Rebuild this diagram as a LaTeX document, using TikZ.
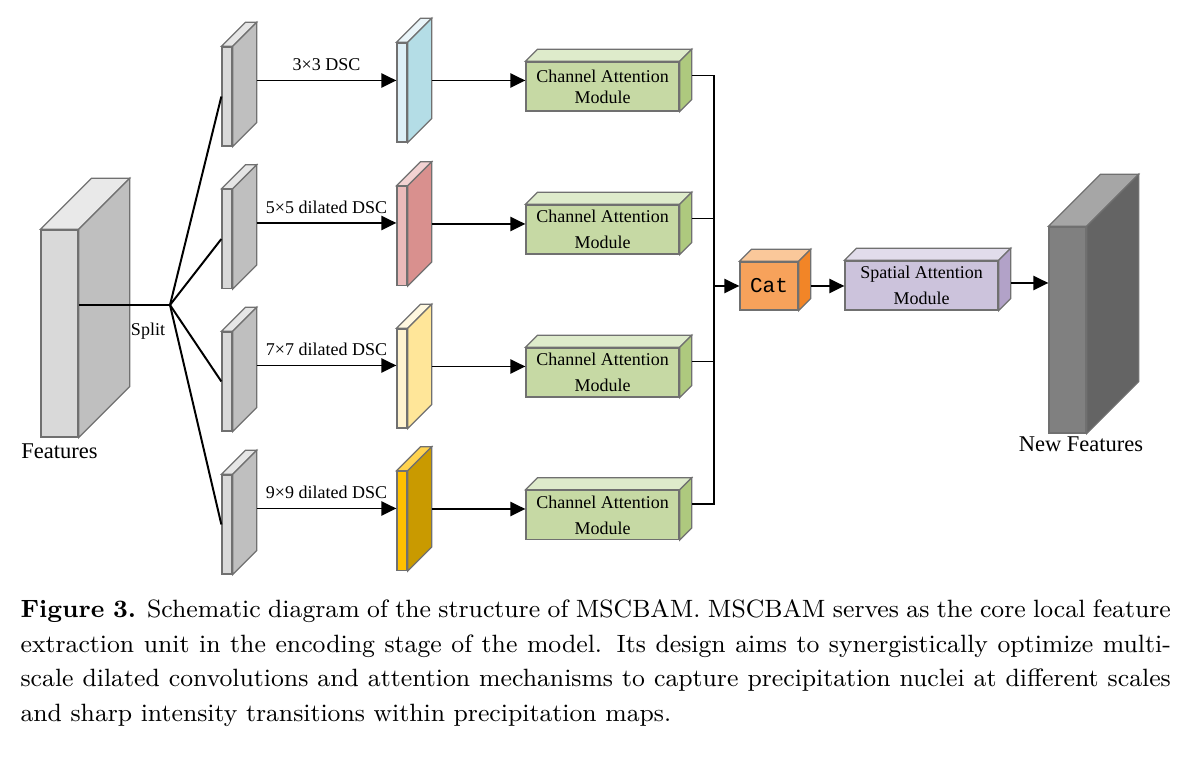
\documentclass[tikz,border=0pt]{standalone}
\usepackage{fontspec}
\newfontfamily\diagfont{Liberation Serif}
\newfontfamily\catfont{Liberation Mono}
\usetikzlibrary{arrows.meta,positioning,calc}

\definecolor{edge}{HTML}{707070}
\definecolor{featFront}{HTML}{D9D9D9}\definecolor{featTop}{HTML}{E9E9E9}\definecolor{featSide}{HTML}{BFBFBF}
\definecolor{grayFront}{HTML}{D9D9D9}\definecolor{grayTop}{HTML}{E6E6E6}\definecolor{graySide}{HTML}{BFBFBF}
\definecolor{blueFront}{HTML}{DEEFF6}\definecolor{blueTop}{HTML}{EAF5F9}\definecolor{blueSide}{HTML}{B4DDE6}
\definecolor{redFront}{HTML}{EBBABA}\definecolor{redTop}{HTML}{F2D2D2}\definecolor{redSide}{HTML}{D9908E}
\definecolor{yelFront}{HTML}{FFF3CF}\definecolor{yelTop}{HTML}{FFF8E0}\definecolor{yelSide}{HTML}{FFE699}
\definecolor{goldFront}{HTML}{FFC000}\definecolor{goldTop}{HTML}{FFD34F}\definecolor{goldSide}{HTML}{C99A00}
\definecolor{camFront}{HTML}{C6D9A4}\definecolor{camTop}{HTML}{DEEBCB}\definecolor{camSide}{HTML}{AEC97E}
\definecolor{catFront}{HTML}{F7A25B}\definecolor{catTop}{HTML}{FAC89A}\definecolor{catSide}{HTML}{F28527}
\definecolor{samFront}{HTML}{CCC3DC}\definecolor{samTop}{HTML}{E1DCEB}\definecolor{samSide}{HTML}{B2A2C8}
\definecolor{newFront}{HTML}{808080}\definecolor{newTop}{HTML}{A6A6A6}\definecolor{newSide}{HTML}{646464}

\newcommand{\px}{0.0125cm}

\begin{document}
\begin{tikzpicture}[x=0.0125cm, y=-0.0125cm]
\tikzstyle{slab}=[draw=edge, line width=0.45pt, rectangle, inner sep=0pt, align=center, font=\diagfont\fontsize{6.4}{9.2}\selectfont]
\tikzstyle{bigslab}=[slab, minimum width=37*\px, minimum height=207*\px]
\tikzstyle{thinslab}=[slab, minimum width=10*\px, minimum height=99*\px]
\tikzstyle{module}=[slab, minimum width=153*\px, minimum height=49*\px]
\tikzstyle{lbl}=[font=\diagfont\fontsize{6.4}{7.6}\selectfont, inner sep=1pt]
\tikzstyle{biglbl}=[font=\diagfont\fontsize{8}{9.6}\selectfont, inner sep=1pt]
\tikzstyle{arrowLine}=[line width=0.7pt, -{Triangle[length=5.3pt, width=5pt]}]
\tikzstyle{plainLine}=[line width=0.7pt]

\useasboundingbox (0,0) rectangle (1202,762);

\node[bigslab, fill=featFront] (feat) at (59.5,333.5) {};
\foreach \i/\y in {1/96.5, 2/239, 3/381.5, 4/524.5}
  \node[thinslab, fill=grayFront] (g\i) at (227,\y) {};
\foreach \i/\y/\col in {1/92.5/blue, 2/236/red, 3/378.5/yel, 4/521/gold}
  \node[thinslab, fill=\col Front] (c\i) at (402,\y) {};
\node[module, fill=camFront, font=\diagfont\fontsize{6.4}{7.5}\selectfont] (cam1) at (602.5,86.5) {Channel Attention\\Module};
\foreach \i/\y in {2/229.5, 3/372.5, 4/515}
  \node[module, fill=camFront] (cam\i) at (602.5,\y) {Channel Attention\\Module};
\node[slab, fill=catFront, minimum width=58*\px, minimum height=48*\px, font=\catfont\fontsize{7.5}{9}\selectfont] (cat) at (769,286) {Cat};
\node[module, fill=samFront] (sam) at (921.5,285.5) {Spatial Attention\\Module};
\node[bigslab, fill=newFront, minimum height=206*\px] (new) at (1067.5,330) {};

% top and side faces
\foreach \nm/\dep/\col in {feat/51/feat, g1/24/gray, g2/24/gray, g3/24/gray, g4/24/gray,
    c1/24/blue, c2/24/red, c3/24/yel, c4/24/gold, cam1/12/cam, cam2/12/cam, cam3/12/cam,
    cam4/12/cam, cat/12/cat, sam/12/sam, new/52/new}{
  \draw[draw=edge, line width=0.45pt, fill=\col Top] (\nm.north west) -- ++(\dep,-\dep)
    -- ([shift={(\dep,-\dep)}]\nm.north east) -- (\nm.north east) -- cycle;
  \draw[draw=edge, line width=0.45pt, fill=\col Side] (\nm.north east) -- ++(\dep,-\dep)
    -- ([shift={(\dep,-\dep)}]\nm.south east) -- (\nm.south east) -- cycle;
}

\node[biglbl, below=1pt of feat] (featlbl) {Features};
\node[biglbl, below=0pt of new, xshift=4.8pt] (newlbl) {New Features};

% split
\coordinate (split) at (170,305);
\draw[plainLine] (split -| feat.east) -- (split);
\node[lbl] (splitlbl) at (148,331) {Split};
\foreach \i in {1,...,4}
  \draw[plainLine] (split) -- (g\i.west);

% branches
\foreach \i/\txt in {1/3×3 DSC, 2/5×5 dilated DSC, 3/7×7 dilated DSC, 4/9×9 dilated DSC}{
  \draw[arrowLine] ([shift={(24,-16)}]g\i.east) coordinate (s\i) -- (s\i -| c\i.west)
    node[lbl, midway, above=2pt] {\txt};
  \draw[arrowLine] ([shift={(24,-12)}]c\i.east) coordinate (t\i) -- (t\i -| cam\i.west);
  \coordinate (o\i) at ([shift={(12,-11)}]cam\i.east);
}

% concatenation
\coordinate (bus) at (714,286);
\draw[plainLine] (o1) -- (o1 -| bus) -- (o4 -| bus) -- (o4);
\draw[plainLine] (o2) -- (o2 -| bus);
\draw[plainLine] (o3) -- (o3 -| bus);
\draw[arrowLine] (bus) -- (cat.west);
\draw[arrowLine] ([shift={(12,0)}]cat.east) coordinate (k) -- (k -| sam.west);
\draw[arrowLine] ([shift={(12,-2.5)}]sam.east) coordinate (m) -- (m -| new.west);

\node[anchor=north west, inner sep=0pt, text width=14.375cm, align=justify,
  font=\fontsize{8.9}{12.34}\selectfont] (caption) at (20,599)
  {\textbf{Figure 3.} Schematic diagram of the structure of MSCBAM. MSCBAM serves as the core local feature\linebreak
  extraction unit in the encoding stage of the model. Its design aims to synergistically optimize multi-\linebreak
  scale dilated convolutions and attention mechanisms to capture precipitation nuclei at different scales\linebreak
  and sharp intensity transitions within precipitation maps.};
\end{tikzpicture}
\end{document}
